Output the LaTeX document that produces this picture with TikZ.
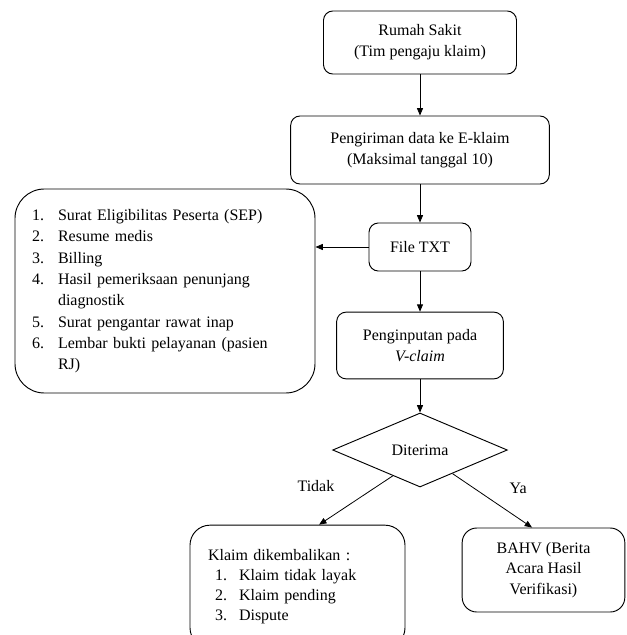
\documentclass[tikz,border=0pt]{standalone}
\usepackage{fontspec}
\setmainfont{Liberation Serif}
\usetikzlibrary{shapes.geometric, arrows.meta, positioning, calc}

\begin{document}
\begin{tikzpicture}[x=0.75pt, y=-0.75pt,
    >={Triangle[length=5.5pt,width=4.5pt]},
    box/.style={draw, rounded corners=7pt, line width=0.7pt, align=center,
                inner sep=2pt, font=\fontsize{12pt}{15.6pt}\selectfont},
    flow/.style={->, line width=0.6pt},
    lbl/.style={font=\fontsize{12pt}{15.6pt}\selectfont}]
    \path[use as bounding box, fill=white] (0,0) rectangle (626,635);

    % Main column
    \node[box, minimum width=144.75pt, minimum height=47.25pt] (rs) at (420,42.5) {Rumah Sakit\\(Tim pengaju klaim)};
    \node[box, minimum width=194pt, minimum height=51pt] (kirim) at (420,150) {Pengiriman data ke E-klaim\\(Maksimal tanggal 10)};
    \node[box, minimum width=76.5pt, minimum height=36pt] (txt) at (420,247) {File TXT};
    \node[box, minimum width=125pt, minimum height=50pt] (input) at (420,345.5) {Penginputan pada\\\textit{V-claim}};
    \node[draw, diamond, aspect=2.36, minimum width=131pt, minimum height=55.5pt,
          inner sep=0pt, line width=0.7pt, lbl] (terima) at (420,450) {Diterima};

    % Documents
    \node[box, rounded corners=22pt, align=left, text width=199.5pt, inner xsep=12.75pt,
          minimum height=153pt, font=\fontsize{12pt}{16pt}\selectfont] (syarat) at (165,291) {%
        \begin{tabular}{@{}l@{\hspace{10.5pt}}l@{}}
        1. & Surat Eligibilitas Peserta (SEP)\\
        2. & Resume medis\\
        3. & Billing\\
        4. & Hasil pemeriksaan penunjang\\
           & diagnostik\\
        5. & Surat pengantar rawat inap\\
        6. & Lembar bukti pelayanan (pasien\\
           & RJ)
        \end{tabular}};

    % Results
    \node[box, rounded corners=15pt, align=left, text width=134.25pt, inner xsep=13.5pt,
          minimum height=92pt, font=\fontsize{12pt}{15pt}\selectfont] (kembali) at (297.5,586.5) {%
        \begin{tabular}{@{\hspace{5.25pt}}l@{\hspace{9pt}}l@{}}
        \multicolumn{2}{@{}l@{}}{Klaim dikembalikan :}\\
        1. & Klaim tidak layak\\
        2. & Klaim pending\\
        3. & Dispute
        \end{tabular}};
    \node[box, rounded corners=11pt, minimum width=122pt, minimum height=63pt] (bahv) at (543.5,570) {BAHV (Berita\\Acara Hasil\\Verifikasi)};

    % Arrows
    \draw[flow] (rs) -- (kirim);
    \draw[flow] (kirim) -- (txt);
    \draw[flow] (txt.west) -- (txt.west -| syarat.east);
    \draw[flow] (txt) -- (input);
    \draw[flow] (input) -- (terima);
    \draw[flow] ($(terima.south)!0.31!(terima.west)$) -- ($(kembali.north west)!0.6!(kembali.north east)$)
          node[midway, lbl, shift={(-30pt,10.5pt)}] {Tidak};
    \draw[flow] ($(terima.south)!0.37!(terima.east)$) -- ($(bahv.north west)!0.43!(bahv.north east)$)
          node[midway, lbl, shift={(19.5pt,9pt)}] {Ya};
\end{tikzpicture}
\end{document}
